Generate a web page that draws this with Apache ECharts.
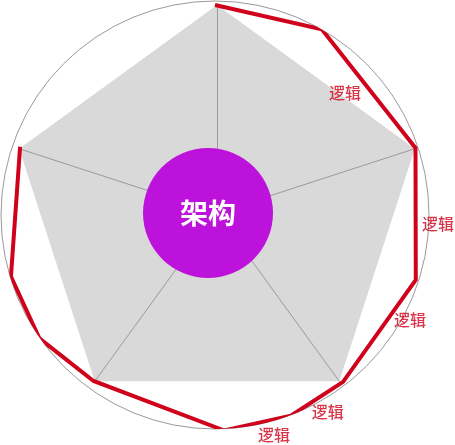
<!DOCTYPE html>
<html>
<head>
<meta charset="utf-8">
<script src="https://cdn.jsdelivr.net/npm/echarts@6/dist/echarts.min.js"></script>
<style>
html,body{margin:0;padding:0;background:#fff;}
#chart{width:455px;height:445px;}
</style>
</head>
<body>
<div id="chart"></div>
<script>
// Pentagon dimensions (radar indicators)
const dimensions = ['A', 'B', 'C', 'D', 'E'];
const pentagonValues = [100, 100, 100, 100, 100];

// Centre label
const centerLabel = '架构';

// Red outline path: [radius (% of circle), angle (deg clockwise from top)]
const pathRadius = [98.1, 100.1, 98.8, 98.6, 98.3, 100.3, 100.8, 96.1, 100.3, 99.6, 96.5];
const pathAngle  = [0, 29.9, 71.5, 107.9, 142.5, 159.3, 177.5, 216.2, 234.9, 253.2, 289.3];

// Edge labels
const edgeLabelText   = ['逻辑', '逻辑', '逻辑', '逻辑', '逻辑'];
const edgeLabelRadius = [83.3, 104.3, 103.5, 106.1, 106.4];
const edgeLabelAngle  = [46.8, 92.3, 118.3, 150.2, 165.0];

const chart = echarts.init(document.getElementById('chart'), null, {renderer: 'canvas'});
const font = '"Noto Sans CJK SC", "Noto Sans", sans-serif';
const red = '#d0021b';

const option = {
  animation: false,
  backgroundColor: '#ffffff',
  radar: {
    z: 3,
    center: [217, 213],
    radius: 208,
    startAngle: 90,
    shape: 'polygon',
    splitNumber: 1,
    indicator: dimensions.map(n => ({name: n, max: 100})),
    axisName: {show: false},
    splitLine: {show: false},
    splitArea: {show: false},
    axisLine: {lineStyle: {color: '#9a9a9a', width: 1}}
  },
  polar: {center: [215, 215], radius: 214},
  angleAxis: {
    type: 'value', min: 0, max: 360, startAngle: 90, clockwise: true,
    axisLine: {show: true, lineStyle: {color: '#9a9a9a', width: 1}},
    axisTick: {show: false}, axisLabel: {show: false}, splitLine: {show: false}
  },
  radiusAxis: {
    type: 'value', min: 0, max: 100,
    axisLine: {show: false}, axisTick: {show: false}, axisLabel: {show: false}, splitLine: {show: false}
  },
  series: [
    {
      type: 'radar', z: 1, silent: true, symbol: 'none',
      lineStyle: {width: 0},
      areaStyle: {color: '#d9d9d9', opacity: 1},
      data: [{value: pentagonValues}]
    },
    {
      type: 'pie', z: 5, silent: true,
      center: [208, 213], radius: [0, 65],
      itemStyle: {color: '#bd12dc'},
      label: {show: true, position: 'center', color: '#ffffff', fontSize: 28, fontWeight: 'bold', fontFamily: font, formatter: '{b}', padding: [0, 0, 6, 0]},
      labelLine: {show: false},
      data: [{value: 1, name: centerLabel}]
    },
    {
      type: 'line', coordinateSystem: 'polar', z: 6, silent: true, clip: false,
      symbol: 'none',
      lineStyle: {color: red, width: 4, join: 'miter'},
      data: pathRadius.map((r, i) => [r, pathAngle[i]])
    },
    {
      type: 'scatter', coordinateSystem: 'polar', z: 7, silent: true, clip: false,
      symbolSize: 0,
      label: {show: true, position: 'inside', formatter: '{b}', color: red, fontSize: 16, fontWeight: 500, fontFamily: font},
      data: edgeLabelText.map((t, i) => ({name: t, value: [edgeLabelRadius[i], edgeLabelAngle[i]]}))
    }
  ]
};
chart.setOption(option);
</script>
</body>
</html>
